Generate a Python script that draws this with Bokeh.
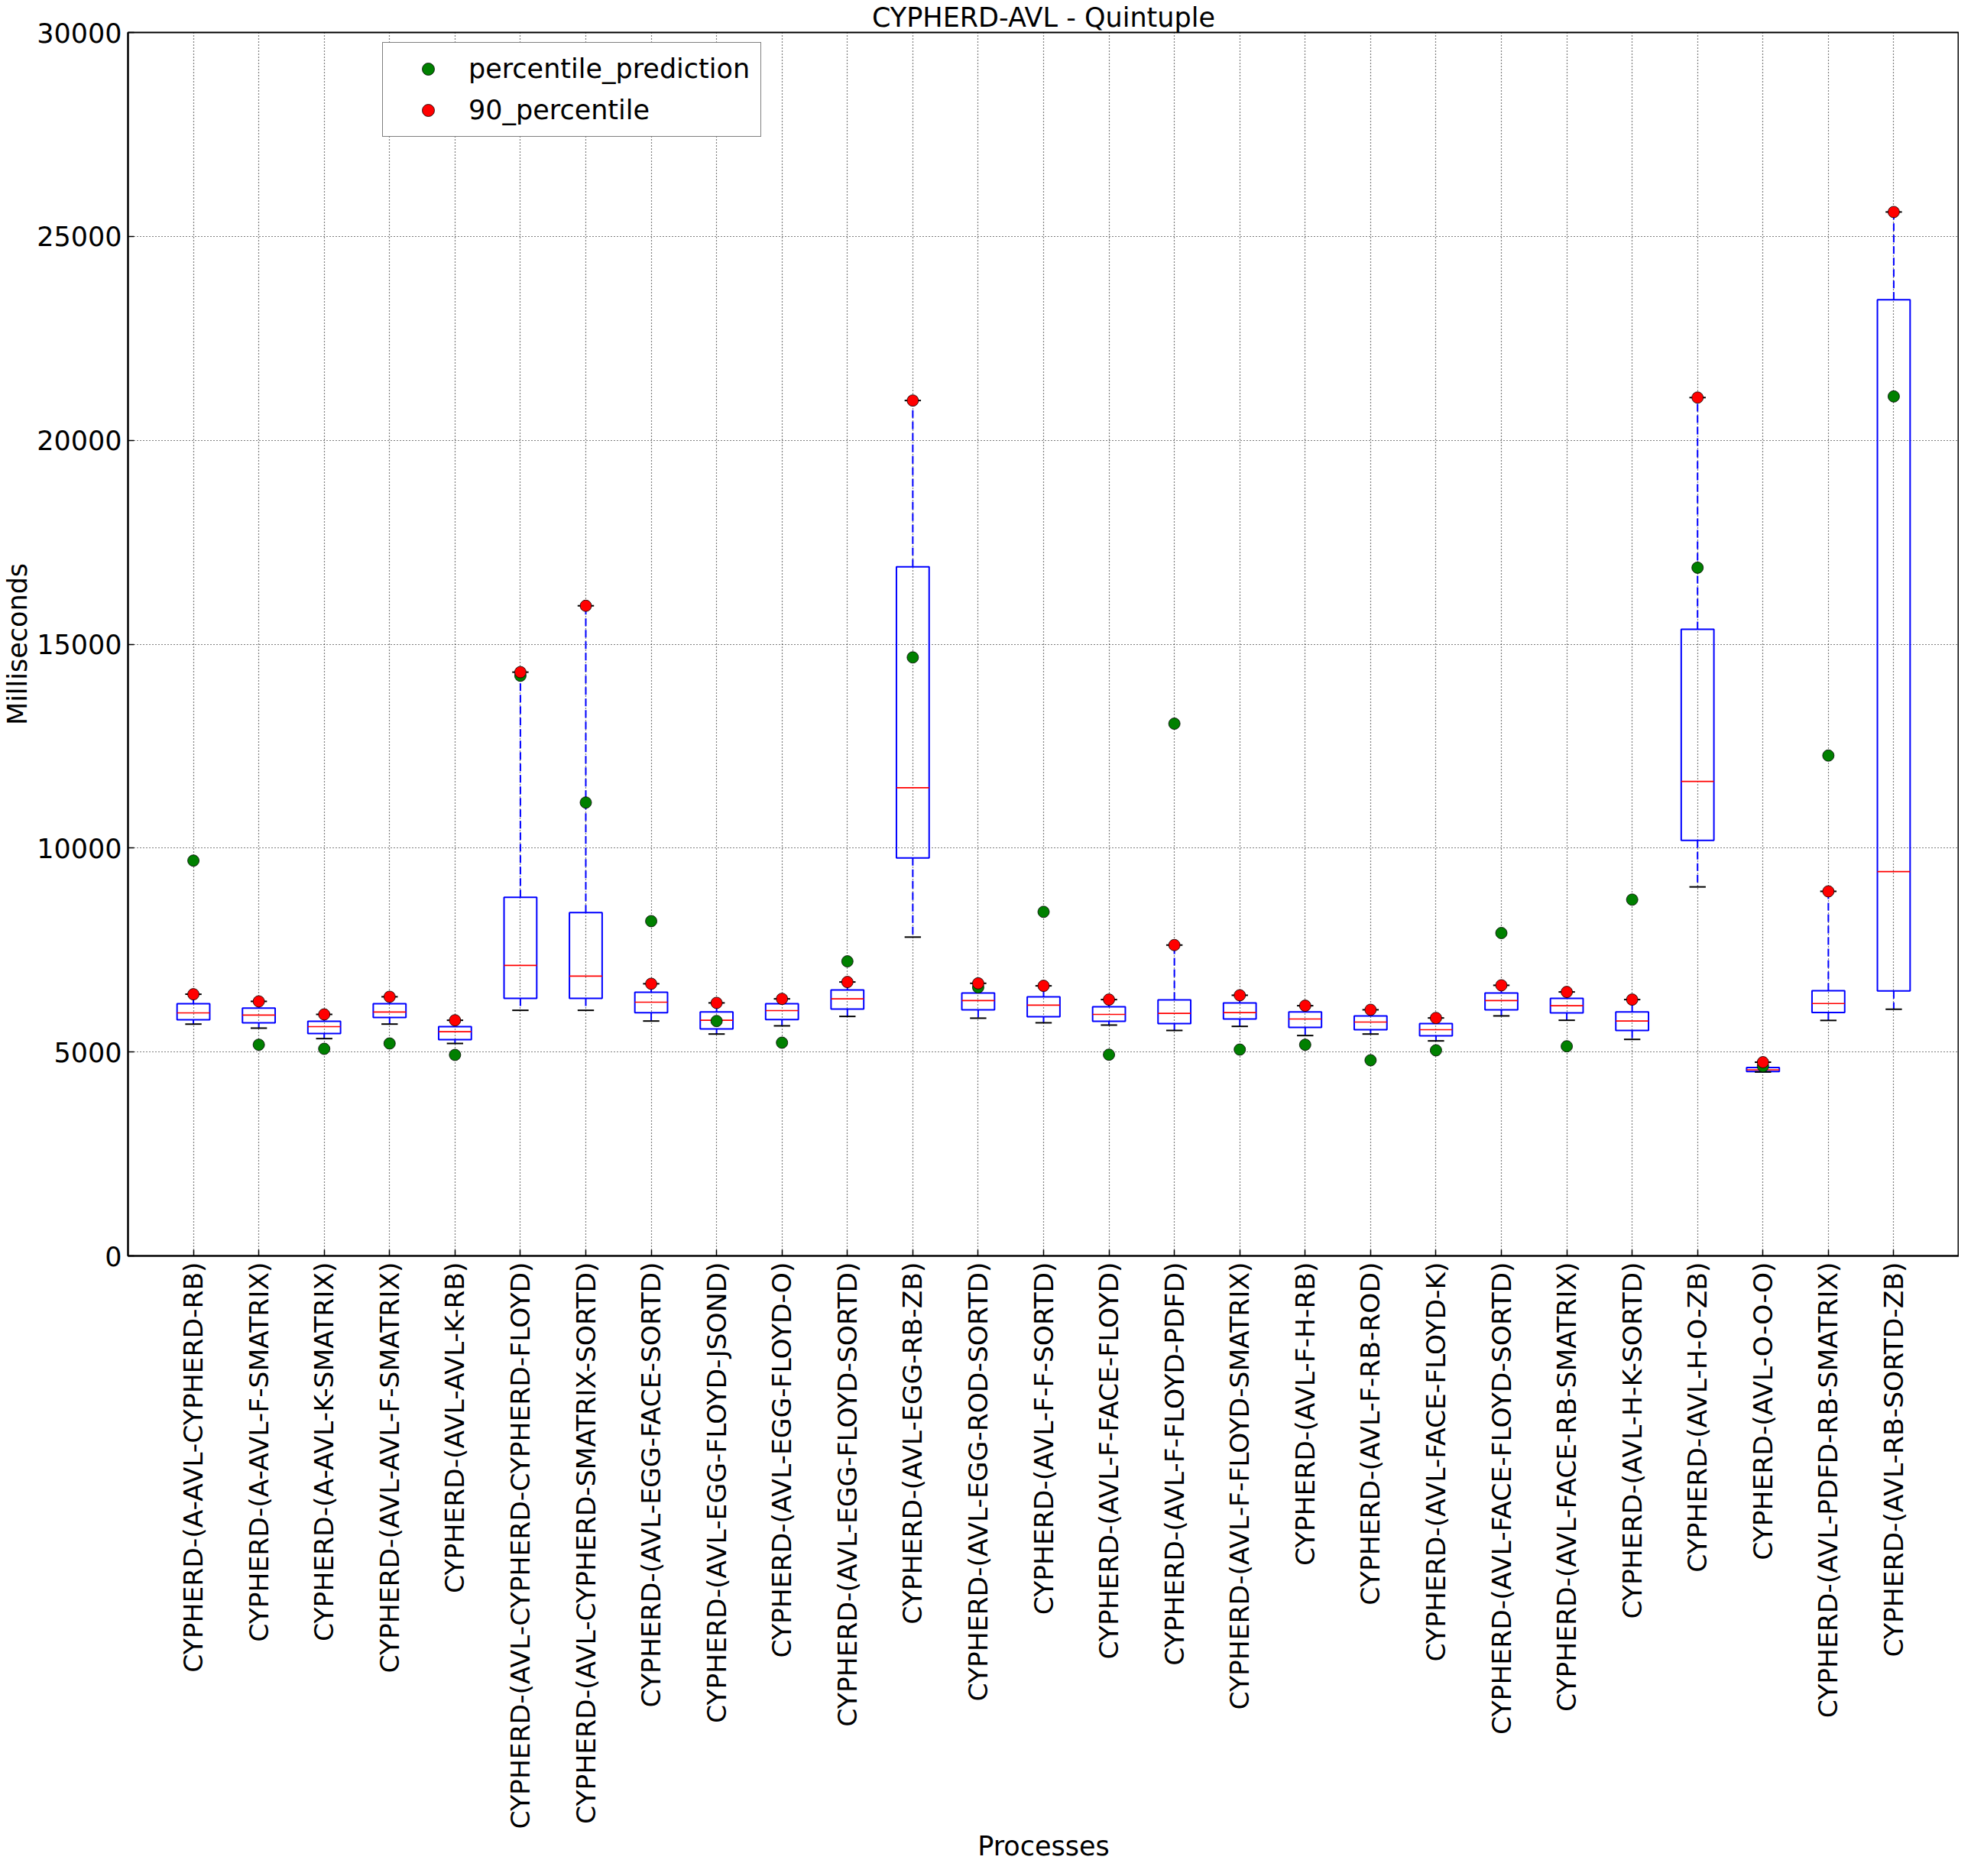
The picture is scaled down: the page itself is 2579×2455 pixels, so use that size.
import numpy as np
from bokeh.plotting import figure
from bokeh.models import FixedTicker, Range1d
from bokeh.embed import file_html
from bokeh.resources import INLINE

categories = [
    "CYPHERD-(A-AVL-CYPHERD-RB)",
    "CYPHERD-(A-AVL-F-SMATRIX)",
    "CYPHERD-(A-AVL-K-SMATRIX)",
    "CYPHERD-(AVL-AVL-F-SMATRIX)",
    "CYPHERD-(AVL-AVL-K-RB)",
    "CYPHERD-(AVL-CYPHERD-CYPHERD-FLOYD)",
    "CYPHERD-(AVL-CYPHERD-SMATRIX-SORTD)",
    "CYPHERD-(AVL-EGG-FACE-SORTD)",
    "CYPHERD-(AVL-EGG-FLOYD-JSOND)",
    "CYPHERD-(AVL-EGG-FLOYD-O)",
    "CYPHERD-(AVL-EGG-FLOYD-SORTD)",
    "CYPHERD-(AVL-EGG-RB-ZB)",
    "CYPHERD-(AVL-EGG-ROD-SORTD)",
    "CYPHERD-(AVL-F-F-SORTD)",
    "CYPHERD-(AVL-F-FACE-FLOYD)",
    "CYPHERD-(AVL-F-FLOYD-PDFD)",
    "CYPHERD-(AVL-F-FLOYD-SMATRIX)",
    "CYPHERD-(AVL-F-H-RB)",
    "CYPHERD-(AVL-F-RB-ROD)",
    "CYPHERD-(AVL-FACE-FLOYD-K)",
    "CYPHERD-(AVL-FACE-FLOYD-SORTD)",
    "CYPHERD-(AVL-FACE-RB-SMATRIX)",
    "CYPHERD-(AVL-H-K-SORTD)",
    "CYPHERD-(AVL-H-O-ZB)",
    "CYPHERD-(AVL-O-O-O)",
    "CYPHERD-(AVL-PDFD-RB-SMATRIX)",
    "CYPHERD-(AVL-RB-SORTD-ZB)",
]

q1 = [5791, 5716, 5453, 5847, 5303, 6316, 6316, 5962, 5566, 5797, 6054, 9759, 6035, 5866,
      5754, 5697, 5810, 5603, 5547, 5397, 6035, 5960, 5528, 10190, 4521, 5966, 6497]
median = [5960, 5904, 5622, 5979, 5497, 7123, 6860, 6221, 5778, 6016, 6303, 11480, 6260, 6148,
          5922, 5947, 5966, 5810, 5735, 5547, 6260, 6135, 5759, 11635, 4563, 6187, 9423]
q3 = [6185, 6078, 5754, 6185, 5622, 8793, 8418, 6465, 5984, 6185, 6523, 16895, 6448, 6354,
      6110, 6279, 6204, 5984, 5885, 5697, 6448, 6316, 5984, 15364, 4619, 6504, 23444]
whisker_low = [5684, 5585, 5328, 5684, 5209, 6022, 6022, 5759, 5440, 5641, 5872, 7817, 5829, 5716,
               5660, 5528, 5628, 5403, 5440, 5272, 5885, 5778, 5309, 9048, 4510, 5774, 6048]
percentile_90 = [6416, 6241, 5922, 6354, 5778, 14314, 15942, 6673, 6204, 6303, 6716, 20975, 6684, 6622,
                 6285, 7622, 6391, 6135, 6035, 5834, 6635, 6472, 6285, 21047, 4750, 8939, 25598]
percentile_prediction = [9693, 5178, 5078, 5209, 4928, 14226, 11117, 8209, 5759, 5228, 7223, 14676, 6585, 8436,
                         4934, 13051, 5059, 5178, 4797, 5041, 7917, 5140, 8736, 16876, 4650, 12269, 21075]

y_ticks = [0, 5000, 10000, 15000, 20000, 25000, 30000]

FONT = "DejaVu Sans"
FS = "35px"

x = np.arange(1, len(categories) + 1, dtype=float)
box_w = 0.5
cap_w = 0.25

p = figure(width=2563, height=2439, output_backend="svg", toolbar_location=None,
           x_range=Range1d(0, len(categories) + 1), y_range=Range1d(0, 30000),
           min_border_left=159, min_border_right=0, min_border_top=36, min_border_bottom=0,
           title="CYPHERD-AVL - Quintuple")
p.background_fill_color = "white"
p.border_fill_color = "white"
p.outline_line_color = "black"
p.outline_line_width = 2

p.title.text_font = FONT
p.title.text_font_size = FS
p.title.text_font_style = "normal"
p.title.text_color = "black"
p.title.align = "center"
p.title.standoff = 0

# boxes
p.quad(left=x - box_w / 2, right=x + box_w / 2, bottom=q1, top=q3,
       fill_color=None, line_color="blue", line_width=2)
p.segment(x0=x - box_w / 2, x1=x + box_w / 2, y0=median, y1=median,
          line_color="red", line_width=1.6)
# whiskers
p.segment(x0=x, x1=x, y0=q3, y1=percentile_90, line_color="blue", line_width=2, line_dash="10 5")
p.segment(x0=x, x1=x, y0=q1, y1=whisker_low, line_color="blue", line_width=2, line_dash="10 5")
# caps
p.segment(x0=x - cap_w / 2, x1=x + cap_w / 2, y0=percentile_90, y1=percentile_90,
          line_color="black", line_width=2)
p.segment(x0=x - cap_w / 2, x1=x + cap_w / 2, y0=whisker_low, y1=whisker_low,
          line_color="black", line_width=2)

p.scatter(x, percentile_prediction, size=15, fill_color="green", line_color="black",
          line_width=0.8, legend_label="percentile_prediction")
p.scatter(x, percentile_90, size=15, fill_color="red", line_color="black",
          line_width=0.8, legend_label="90_percentile")

# axes
xt = FixedTicker(ticks=list(x))
yt = FixedTicker(ticks=y_ticks)
p.xaxis.ticker = xt
p.xaxis.major_label_overrides = {float(i): c for i, c in zip(x, categories)}
p.xaxis.major_label_orientation = np.pi / 2
p.yaxis.ticker = yt
for ax in [p.xaxis[0], p.yaxis[0]]:
    ax.major_label_text_font = FONT
    ax.major_label_text_font_size = FS
    ax.major_label_text_color = "black"
    ax.axis_label_text_font = FONT
    ax.axis_label_text_font_size = FS
    ax.axis_label_text_font_style = "normal"
    ax.axis_label_text_color = "black"
    ax.axis_line_color = "black"
    ax.axis_line_width = 2
    ax.major_tick_in = 8
    ax.major_tick_out = 0
    ax.major_tick_line_width = 1.5
    ax.minor_tick_line_color = None
p.xaxis.major_label_text_font_size = "34.5px"
p.xaxis.axis_label = "Processes"
p.yaxis.axis_label = "Milliseconds"
p.xaxis.major_label_standoff = 8
p.yaxis.major_label_standoff = 8
p.xaxis.axis_label_standoff = 0
p.yaxis.axis_label_standoff = 2

# grid
p.xgrid.ticker = xt
p.ygrid.ticker = yt
for g in [p.xgrid[0], p.ygrid[0]]:
    g.grid_line_color = "black"
    g.grid_line_alpha = 1.0
    g.grid_line_dash = "1 3"
    g.grid_line_width = 1.2

# legend
lg = p.legend[0]
lg.location = (333, 1464)
lg.margin = 0
lg.padding = 14
lg.spacing = 14
lg.label_text_font = FONT
lg.label_text_font_size = FS
lg.label_text_color = "black"
lg.label_height = 40
lg.glyph_height = 40
lg.glyph_width = 90
lg.label_standoff = 8
lg.border_line_color = "black"
lg.border_line_width = 1.5
lg.background_fill_color = "white"
lg.background_fill_alpha = 1

open("out.html", "w").write(file_html(p, INLINE))
